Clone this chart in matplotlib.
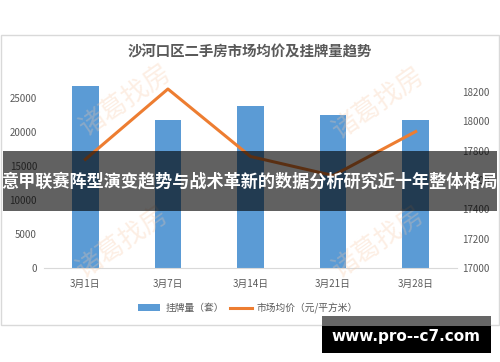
import numpy as np
import matplotlib.pyplot as plt
from matplotlib.patches import Rectangle

plt.rcParams['font.family'] = ['Noto Sans CJK SC', 'DejaVu Sans']

dates = ['3月1日', '3月7日', '3月14日', '3月21日', '3月28日']
listings = [26700, 21700, 23800, 22500, 21700]
avg_price = [17740, 18220, 17760, 17630, 17930]
left_ticks = [0, 5000, 10000, 15000, 20000, 25000]
right_ticks = [17000, 17200, 17400, 17600, 17800, 18000, 18200]

title = '沙河口区二手房市场均价及挂牌量趋势'
banner = '意甲联赛阵型演变趋势与战术革新的数据分析研究近十年整体格局'
site = 'www.pro--c7.com'
mark = '诸葛找房'

fig = plt.figure(figsize=(5, 3.62), dpi=100)
W, H = 500, 362

def fx(px):
    return px / W

def fy(py):
    return 1 - py / H

# chart frame
fig.patches.append(Rectangle((fx(1), fy(325)), fx(498), 290 / H, transform=fig.transFigure,
                             fill=False, edgecolor='#d9d9d9', lw=1))

ax = fig.add_axes([fx(44), fy(268), fx(413), 184 / H])
x = np.arange(len(dates))
ax.bar(x, listings, width=0.32, color='#5b9bd5', label='挂牌量（套）', zorder=2)
ax.set_xlim(-0.5, len(dates) - 0.5)
ax.set_ylim(0, 27059)
ax.set_yticks(left_ticks)
ax.set_xticks(x)
ax.set_xticklabels(dates)
for s in ['top', 'right', 'left']:
    ax.spines[s].set_visible(False)
ax.spines['bottom'].set_color('#d9d9d9')
ax.tick_params(length=0, labelsize=7, colors='#595959', pad=8)
ax.tick_params(axis='y', pad=5)

ax2 = ax.twinx()
ax2.plot(x, avg_price, color='#ed7d31', lw=2.2, label='市场均价（元/平方米）', zorder=3)
ax2.set_ylim(17000, 18254)
ax2.set_yticks(right_ticks)
for s in ax2.spines.values():
    s.set_visible(False)
ax2.tick_params(length=0, labelsize=7, colors='#595959', pad=4)

fig.text(0.5, fy(52), title, ha='center', va='center', fontsize=10.4, color='#595959',
         fontweight='bold')

h1, l1 = ax.get_legend_handles_labels()
h2, l2 = ax2.get_legend_handles_labels()
fig.legend(h1 + h2, l1 + l2, loc='center', bbox_to_anchor=(fx(248), fy(308)), ncol=2,
           frameon=False, fontsize=7, labelcolor='#595959', handlelength=2.3,
           handleheight=0.6, columnspacing=0.6, handletextpad=0.5)

# watermarks
for cx, cy in [(125, 100), (378, 103), (122, 242), (378, 242)]:
    fig.text(fx(cx), fy(cy), mark, ha='center', va='center', rotation=35, fontsize=19,
             color='#f8c9a6', alpha=0.3, zorder=5)

# dark banner with title text
fig.patches.append(Rectangle((fx(3), fy(211)), fx(494), 60 / H, transform=fig.transFigure,
                             facecolor='black', alpha=0.62, edgecolor='none', zorder=10))
fig.text(0.5, fy(181), banner, ha='center', va='center', fontsize=12.3, color='white',
         fontweight='bold', zorder=11)

# site box
fig.patches.append(Rectangle((fx(322), fy(326)), fx(169), 10 / H, transform=fig.transFigure,
                             facecolor='#666666', edgecolor='none', zorder=10))
fig.patches.append(Rectangle((fx(322), fy(353)), fx(169), 27 / H, transform=fig.transFigure,
                             facecolor='black', edgecolor='none', zorder=10))
fig.text(fx(406), fy(337), site, ha='center', va='center', fontsize=11, color='white',
         fontweight='bold', family='DejaVu Sans', zorder=11)

fig.savefig('out.png', dpi=100)
